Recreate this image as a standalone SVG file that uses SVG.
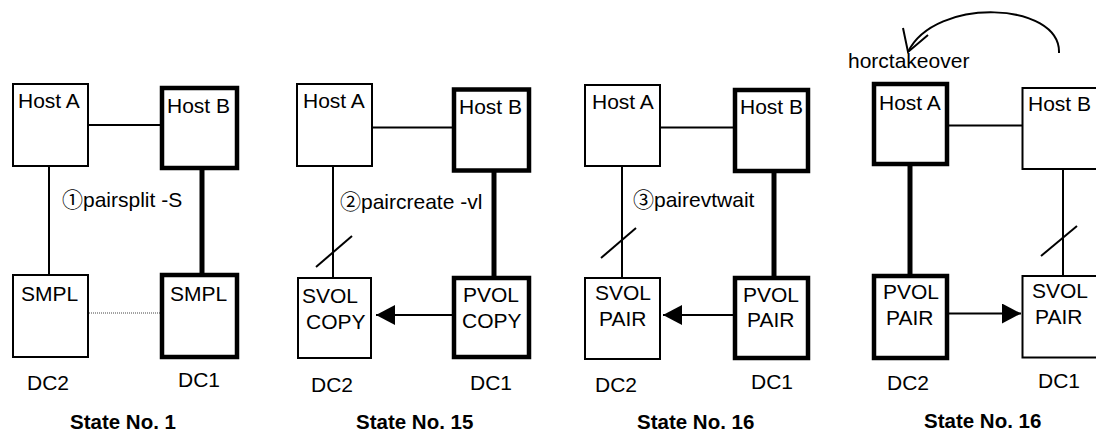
<svg xmlns="http://www.w3.org/2000/svg" width="1096" height="433" viewBox="0 0 1096 433">
<style>
.thin{fill:#fff;stroke:#000;stroke-width:2}
.thick{fill:#fff;stroke:#000;stroke-width:4.5}
.ln{stroke:#000;stroke-width:2;fill:none}
.lnb{stroke:#000;stroke-width:5;fill:none}
.dot{stroke:#444;stroke-width:1;stroke-dasharray:1 1;fill:none}
text{font-family:"Liberation Sans",Arial,"Noto Sans CJK JP",sans-serif;font-size:21px;fill:#000}
.title{font-weight:bold;font-size:20.5px}
</style>
<defs>
<marker id="ah" viewBox="0 0 19 20" refX="19" refY="10" markerWidth="19" markerHeight="20" markerUnits="userSpaceOnUse" orient="auto">
<path d="M0,0 L19,10 L0,20 Z" fill="#000"/>
</marker>
</defs>

<g id="connectors">
<!-- State 1 -->
<line class="ln" x1="88" y1="125" x2="162" y2="125"/>
<line class="ln" x1="49" y1="166" x2="49" y2="276"/>
<line class="lnb" x1="202" y1="170" x2="202" y2="276"/>
<line class="dot" x1="89" y1="313" x2="160" y2="313"/>
<!-- State 2 -->
<line class="ln" x1="372" y1="127.5" x2="454" y2="127.5"/>
<line class="ln" x1="333" y1="166" x2="333" y2="278"/>
<line class="ln" x1="316" y1="267" x2="352" y2="236"/>
<line class="lnb" x1="494" y1="172" x2="494" y2="278"/>
<line class="ln" x1="452" y1="315" x2="376" y2="315" marker-end="url(#ah)"/>
<!-- State 3 -->
<line class="ln" x1="660" y1="127.5" x2="735" y2="127.5"/>
<line class="ln" x1="622" y1="166" x2="622" y2="278"/>
<line class="ln" x1="601" y1="258" x2="636" y2="228"/>
<line class="lnb" x1="774" y1="172" x2="774" y2="278"/>
<line class="ln" x1="733" y1="315" x2="663" y2="315" marker-end="url(#ah)"/>
<!-- State 4 -->
<line class="ln" x1="949" y1="125.5" x2="1022" y2="125.5"/>
<line class="lnb" x1="910" y1="164" x2="910" y2="276"/>
<line class="ln" x1="1063" y1="170" x2="1063" y2="276"/>
<line class="ln" x1="1041" y1="256" x2="1077" y2="226"/>
<line class="ln" x1="949" y1="313.5" x2="1021" y2="313.5" marker-end="url(#ah)"/>
<path class="ln" d="M1059,53 C1061,2 935,-4 908,52"/>
<path class="ln" d="M903,28 L908,52 L928,35"/>
</g>

<g id="s1-hostA"><rect class="thin" x="13" y="84" width="75" height="82"/><text x="18" y="108">Host A</text></g>
<g id="s1-hostB"><rect class="thick" x="162" y="88" width="75" height="80"/><text x="167" y="113">Host B</text></g>
<g id="s1-smpl2"><rect class="thin" x="13" y="275" width="75" height="82"/><text x="21" y="301">SMPL</text></g>
<g id="s1-smpl1"><rect class="thick" x="162" y="275" width="75" height="82"/><text x="170" y="301">SMPL</text></g>
<g id="s1-labels"><text x="62" y="207">①pairsplit -S</text><text x="27" y="390">DC2</text><text x="178" y="387">DC1</text><text class="title" x="70" y="429">State No. 1</text></g>

<g id="s2-hostA"><rect class="thin" x="297" y="84" width="75" height="82"/><text x="303" y="108">Host A</text></g>
<g id="s2-hostB"><rect class="thick" x="454" y="89.5" width="75" height="81"/><text x="459" y="114">Host B</text></g>
<g id="s2-svol"><rect class="thin" x="298" y="278" width="73" height="80"/><text x="302" y="303">SVOL</text><text x="306" y="329">COPY</text></g>
<g id="s2-pvol"><rect class="thick" x="454" y="278" width="75" height="79"/><text x="463" y="302">PVOL</text><text x="462" y="328">COPY</text></g>
<g id="s2-labels"><text x="340" y="209">②paircreate -vl</text><text x="311" y="392">DC2</text><text x="470" y="390">DC1</text><text class="title" x="356" y="429">State No. 15</text></g>

<g id="s3-hostA"><rect class="thin" x="585" y="85" width="75" height="81"/><text x="592" y="109">Host A</text></g>
<g id="s3-hostB"><rect class="thick" x="735" y="90" width="73" height="81"/><text x="740" y="114">Host B</text></g>
<g id="s3-svol"><rect class="thin" x="585" y="278" width="75" height="81"/><text x="595" y="300">SVOL</text><text x="599" y="326">PAIR</text></g>
<g id="s3-pvol"><rect class="thick" x="735" y="278" width="73" height="80"/><text x="743" y="302">PVOL</text><text x="747" y="327">PAIR</text></g>
<g id="s3-labels"><text x="633" y="207">③pairevtwait</text><text x="595" y="392">DC2</text><text x="751" y="389">DC1</text><text class="title" x="637" y="429">State No. 16</text></g>

<g id="s4-hostA"><rect class="thick" x="874" y="84" width="73" height="80"/><text x="879" y="110">Host A</text></g>
<g id="s4-hostB"><rect class="thin" x="1022.5" y="88" width="80" height="81"/><text x="1028" y="111">Host B</text></g>
<g id="s4-pvol"><rect class="thick" x="874" y="276" width="73" height="82"/><text x="883" y="299">PVOL</text><text x="886" y="325">PAIR</text></g>
<g id="s4-svol"><rect class="thin" x="1022.5" y="276" width="80" height="81.5"/><text x="1032" y="298">SVOL</text><text x="1035" y="324">PAIR</text></g>
<g id="s4-labels"><text x="848" y="68">horctakeover</text><text x="887" y="390">DC2</text><text x="1038" y="388">DC1</text><text class="title" x="924" y="428">State No. 16</text></g>
</svg>
